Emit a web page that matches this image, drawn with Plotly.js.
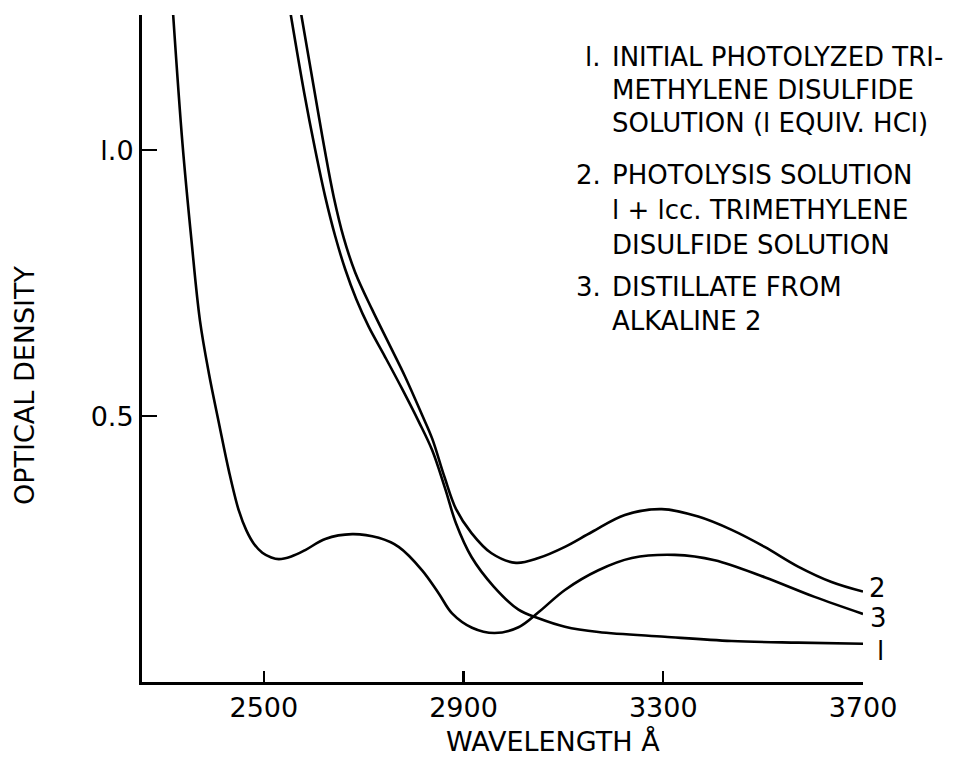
<!DOCTYPE html>
<html>
<head>
<meta charset="utf-8">
<script src="https://cdn.plot.ly/plotly-3.0.1.min.js"></script>
<style>
html,body{margin:0;padding:0;background:#fff;}
#chart{width:967px;height:757px;}
</style>
</head>
<body>
<div id="chart"></div>
<script>
// ---- data ----
// Curve 1: initial photolyzed trimethylene disulfide solution
const wl1 = [2553, 2581, 2603, 2623, 2643, 2663, 2685, 2710, 2743, 2777, 2810, 2837, 2863, 2885, 2916, 2960, 3010, 3050, 3103, 3170, 3303, 3437, 3570, 3700];
const od1 = [1.26, 1.107, 1.0, 0.912, 0.838, 0.776, 0.72, 0.668, 0.611, 0.551, 0.49, 0.436, 0.364, 0.298, 0.235, 0.18, 0.136, 0.12, 0.104, 0.094, 0.085, 0.077, 0.074, 0.072];
// Curve 2: photolysis solution 1 + 1cc trimethylene disulfide solution
const wl2 = [2574, 2608, 2622, 2640, 2660, 2683, 2717, 2750, 2783, 2817, 2837, 2862, 2885, 2916, 2956, 3005, 3050, 3103, 3157, 3223, 3297, 3370, 3437, 3503, 3570, 3637, 3700];
const od2 = [1.26, 1.075, 1.0, 0.912, 0.835, 0.77, 0.7, 0.637, 0.574, 0.502, 0.458, 0.385, 0.325, 0.28, 0.242, 0.224, 0.233, 0.254, 0.282, 0.314, 0.325, 0.311, 0.286, 0.254, 0.217, 0.188, 0.17];
// Curve 3: distillate from alkaline 2
const wl3 = [2318, 2337, 2355, 2372, 2390, 2410, 2430, 2450, 2465, 2480, 2497, 2515, 2530, 2555, 2583, 2623, 2677, 2730, 2770, 2817, 2850, 2877, 2917, 2962, 3010, 3050, 3103, 3170, 3237, 3323, 3403, 3503, 3603, 3700];
const od3 = [1.26, 1.013, 0.831, 0.68, 0.58, 0.487, 0.397, 0.322, 0.285, 0.26, 0.243, 0.234, 0.231, 0.236, 0.248, 0.269, 0.278, 0.271, 0.254, 0.21, 0.167, 0.129, 0.102, 0.092, 0.103, 0.131, 0.173, 0.21, 0.233, 0.239, 0.229, 0.197, 0.16, 0.128];

const curveLabels = ["1", "2", "3"];
const xTickVals = [2500, 2900, 3300, 3700];
const xTickText = ["2500", "2900", "3300", "3700"];
const yTickVals = [0.5, 1.0];
const yTickText = ["0.5", "l.0"];
const xTitle = "WAVELENGTH Å";
const yTitle = "OPTICAL DENSITY";
const legendNums = ["l.", "2.", "3."];
const legendLines = [
  "INITIAL PHOTOLYZED TRI-",
  "METHYLENE DISULFIDE",
  "SOLUTION (l EQUIV. HCl)",
  "PHOTOLYSIS SOLUTION",
  "l + lcc. TRIMETHYLENE",
  "DISULFIDE SOLUTION",
  "DISTILLATE FROM",
  "ALKALINE 2"
];

// ---- layout geometry (pixels) ----
const L = 142, R = 863, T = 15, B = 682, W = 967, H = 757;
const pxX = px => (px - L) / (R - L);
const pxY = py => (B - py) / (B - T);
const FONT = "DejaVu Sans, Liberation Sans, sans-serif";

const lineStyle = {color: "#000", width: 2.6, shape: "spline", smoothing: 1};
const series = [[wl1, od1], [wl2, od2], [wl3, od3]];
const traces = series.map((s, i) => ({
  x: s[0], y: s[1], type: "scatter", mode: "lines",
  name: curveLabels[i], line: lineStyle, hoverinfo: "x+y"
}));

const annotations = [];
// curve end labels
const endShift = [[17, -7], [14, 4], [15, -4]];
series.forEach((s, i) => {
  const n = s[0].length - 1;
  annotations.push({
    x: s[0][n], y: s[1][n], xref: "x", yref: "y",
    text: curveLabels[i] === "1" ? "l" : curveLabels[i],
    showarrow: false, xanchor: "center", yanchor: "middle",
    xshift: endShift[i][0], yshift: endShift[i][1],
    font: {family: FONT, size: 26, color: "#000"}
  });
});
// legend block text
const lineY = [57, 90, 123, 175, 210, 245, 287, 321];
legendLines.forEach((t, i) => {
  annotations.push({
    x: pxX(610), y: pxY(lineY[i]), xref: "paper", yref: "paper",
    text: t, showarrow: false, xanchor: "left", yanchor: "middle",
    font: {family: FONT, size: 26, color: "#000"}
  });
});
[0, 3, 6].forEach((li, k) => {
  annotations.push({
    x: pxX(603), y: pxY(lineY[li]), xref: "paper", yref: "paper",
    text: legendNums[k], showarrow: false, xanchor: "right", yanchor: "middle",
    font: {family: FONT, size: 26, color: "#000"}
  });
});
// axis titles (placed to match the reference)
annotations.push({
  x: pxX(553), y: pxY(741), xref: "paper", yref: "paper",
  text: xTitle, showarrow: false, xanchor: "center", yanchor: "middle",
  font: {family: FONT, size: 27, color: "#000"}
});
annotations.push({
  x: pxX(24), y: pxY(385), xref: "paper", yref: "paper",
  text: yTitle, showarrow: false, xanchor: "center", yanchor: "middle", textangle: -90,
  font: {family: FONT, size: 27, color: "#000"}
});

const layout = {
  width: W, height: H,
  margin: {l: L, r: W - R, t: T, b: H - B, pad: 0},
  paper_bgcolor: "#fff", plot_bgcolor: "#fff",
  showlegend: false,
  font: {family: FONT, size: 27, color: "#000"},
  xaxis: {
    range: [2256, 3700], tickvals: xTickVals, ticktext: xTickText,
    ticks: "inside", ticklen: 11, tickwidth: 2.2, tickcolor: "#000",
    showline: true, linewidth: 3, linecolor: "#000", mirror: false,
    showgrid: false, zeroline: false,
    tickfont: {family: FONT, size: 27, color: "#000"}
  },
  yaxis: {
    range: [0, 1.254], tickvals: yTickVals, ticktext: yTickText,
    ticks: "inside", ticklen: 15, tickwidth: 2.6, tickcolor: "#000",
    showline: true, linewidth: 3, linecolor: "#000", mirror: false,
    showgrid: false, zeroline: false,
    tickfont: {family: FONT, size: 27, color: "#000"}
  },
  annotations: annotations
};

Plotly.newPlot("chart", traces, layout, {displayModeBar: false, staticPlot: true});
</script>
</body>
</html>
